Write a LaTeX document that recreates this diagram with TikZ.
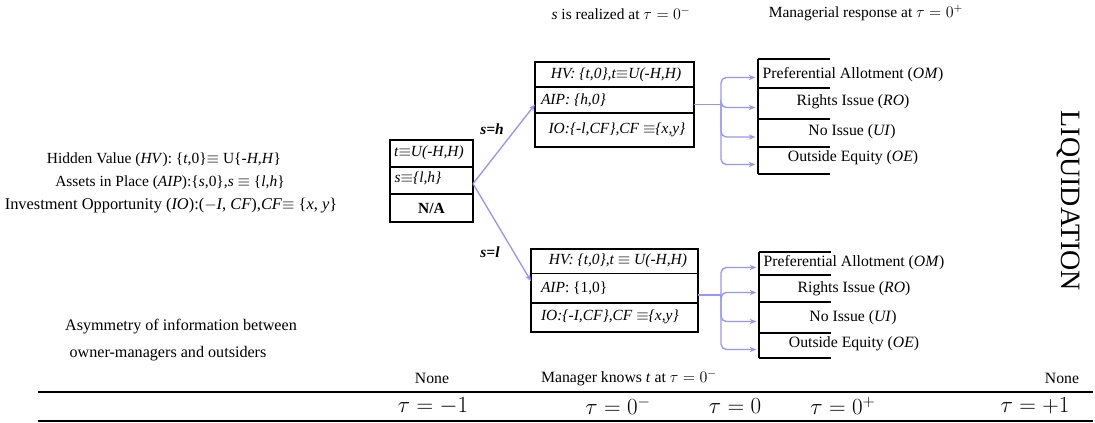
\documentclass[tikz,border=0pt]{standalone}
\usepackage{fontspec}
\setmainfont{Liberation Serif}
\usetikzlibrary{arrows.meta,fit}
\definecolor{connc}{RGB}{150,150,250}
\tikzset{
 every node/.style={inner sep=0pt, outer sep=0pt},
 txt/.style={font=\fontsize{11.6}{13.5}\selectfont},
 itxt/.style={font=\fontsize{11.6}{13.5}\selectfont\itshape},
 sm/.style={font=\fontsize{11.8}{13.5}\selectfont},
 taulab/.style={font=\fontsize{17.5}{19}\selectfont},
 boxframe/.style={draw, line width=0.9pt, inner sep=0pt},
 optrow/.style={inner sep=0pt},
 opttxt/.style={font=\fontsize{11.8}{13.5}\selectfont},
 rule/.style={line width=0.8pt},
 conn/.style={draw=connc, line width=1pt},
 tip/.style={-{Stealth[length=5pt,width=4pt]}},
}
\begin{document}
\begin{tikzpicture}[x=0.75pt,y=-0.75pt]
\useasboundingbox (0,0) rectangle (1095,423);

% top headings
\node[txt] (h1) at (621,13) {\textit{s} is realized at $\tau = 0^{-}$};
\node[txt] (h2) at (866,13) {Managerial response at $\tau = 0^{+}$};

% left descriptions
\node[txt] (d1) at (164,160) {Hidden Value (\textit{HV}): \{\textit{t},0\}$\equiv$ U\{-\textit{H},\textit{H}\}};
\node[txt] (d2) at (170,183) {Assets in Place (\textit{AIP}):\{\textit{s},0\},\textit{s} $\equiv$ \{\textit{l},\textit{h}\}};
\node[font=\fontsize{12.3}{14}\selectfont] (d3) at (171,206) {Investment Opportunity (\textit{IO}):($-$\textit{I}, \textit{CF}),\textit{CF}$\equiv$ \{\textit{x}, \textit{y}\}};
\node[font=\fontsize{12.1}{14}\selectfont] (a1) at (181,327) {Asymmetry of information between};
\node[font=\fontsize{12.1}{14}\selectfont] (a2) at (168,354) {owner-managers and outsiders};

% root box
\node[boxframe, fit={(390,140) (473,222)}] (root) {};
\draw[rule] (root.west |- 0,167) -- (root.east |- 0,167);
\draw[rule] (root.west |- 0,194) -- (root.east |- 0,194);
\node[itxt] (r1) at (429,153) {t$\equiv$U(-H,H)};
\node[itxt] (r2) at (418,178) {s$\equiv$\{l,h\}};
\node[txt] (r3) at (431.5,208) {\bfseries N/A};

% upper box
\node[boxframe, fit={(535,62) (694,147)}] (up) {};
\draw[rule] (up.west |- 0,87) -- (up.east |- 0,87);
\draw[rule] (up.west |- 0,113) -- (up.east |- 0,113);
\node[itxt] (u1) at (616,75) {HV: \{t,0\},t$\equiv$U(-H,H)};
\node[itxt, anchor=west] (u2) at (541,100) {AIP: \{h,0\}};
\node[itxt] (u3) at (617,130) {IO:\{-l,CF\},CF $\equiv$\{x,y\}};

% lower box
\node[boxframe, fit={(531,249) (698,332)}] (low) {};
\draw[rule] (low.west |- 0,273.5) -- (low.east |- 0,273.5);
\draw[rule] (low.west |- 0,303) -- (low.east |- 0,303);
\node[itxt] (l1) at (618,261) {HV: \{t,0\},t $\equiv$ U(-H,H)};
\node[txt, anchor=west] (l2) at (541,288) {\textit{AIP}: \{1,0\}};
\node[itxt, anchor=west] (l3) at (541,317) {IO:\{-I,CF\},CF $\equiv$\{x,y\}};

% branches
\draw[conn,tip] ([yshift=-2pt]root.east) -- (up.west);
\draw[conn,tip] ([yshift=-2pt]root.east) -- ([yshift=7pt]low.west);
\node[itxt,font=\fontsize{11.6}{13.5}\selectfont\bfseries\itshape] (sh) at (492,129) {s=h};
\node[itxt,font=\fontsize{11.6}{13.5}\selectfont\bfseries\itshape] (sl) at (490,252) {s=l};

% option tables (upper)
\node[optrow, fit={(758,59) (948,88)}] (o1) {};
\node[optrow, fit={(758,88) (948,119)}] (o2) {};
\node[optrow, fit={(758,119) (948,147)}] (o3) {};
\node[optrow, fit={(758,147) (948,174)}] (o4) {};
\node[opttxt] (o1t) at (853,75) {Preferential Allotment (\textit{OM})};
\node[opttxt] (o2t) at (853,102) {Rights Issue (\textit{RO})};
\node[opttxt] (o3t) at (852,132) {No Issue (\textit{UI})};
\node[opttxt] (o4t) at (853,158) {Outside Equity (\textit{OE})};
\draw[rule] (o1.north west) -- (o4.south west);
\foreach \o in {o1,o2,o3,o4} \draw[rule] (\o.north west) -- ++(72,0);
\draw[rule] (o4.south west) -- ++(72,0);

% option tables (lower)
\node[optrow, fit={(759,252) (949,275)}] (p1) {};
\node[optrow, fit={(759,275) (949,302)}] (p2) {};
\node[optrow, fit={(759,302) (949,333)}] (p3) {};
\node[optrow, fit={(759,333) (949,358)}] (p4) {};
\node[opttxt] (p1t) at (854,263) {Preferential Allotment (\textit{OM})};
\node[opttxt] (p2t) at (854,289) {Rights Issue (\textit{RO})};
\node[opttxt] (p3t) at (853,318) {No Issue (\textit{UI})};
\node[opttxt] (p4t) at (854,344) {Outside Equity (\textit{OE})};
\draw[rule] (p1.north west) -- (p4.south west);
\foreach \o in {p1,p2,p3,p4} \draw[rule] (\o.north west) -- ++(72,0);
\draw[rule] (p4.south west) -- ++(72,0);

% buses
\coordinate (bu) at (721,0);
\draw[conn] (up.east) -- (up.east -| bu);
\foreach \o in {o1,o2,o3,o4}
  \draw[conn,tip,rounded corners=4pt,shorten >=2pt] (up.east -| bu) |- ([yshift=-3pt]\o.west);
\coordinate (lo) at ([yshift=-3.4pt]low.east);
\draw[conn] (lo) -- (lo -| bu);
\foreach \o in {p1,p2,p3,p4}
  \draw[conn,tip,rounded corners=4pt,shorten >=2pt] (lo -| bu) |- ([yshift=-3pt]\o.west);

% liquidation
\node[rotate=-90, font=\fontsize{21}{21}\selectfont] (liq) at (1068,201) {LIQUIDATION};

% timeline
\node[sm] (n1) at (432,378) {None};
\node[sm] (mk) at (629,378) {Manager knows \textit{t} at $\tau = 0^{-}$};
\node[sm] (n2) at (1062,378) {None};
\draw[line width=1.2pt] (38,392) -- (1093,392);
\draw[line width=1pt] (38,421) -- (1093,421);
\node[taulab] (t1) at (433,406) {$\tau = -1$};
\node[taulab] (t2) at (618,406) {$\tau = 0^{-}$};
\node[taulab] (t3) at (735,406) {$\tau = 0$};
\node[taulab] (t4) at (843,406) {$\tau = 0^{+}$};
\node[taulab] (t5) at (1035,406) {$\tau = +1$};
\end{tikzpicture}
\end{document}
